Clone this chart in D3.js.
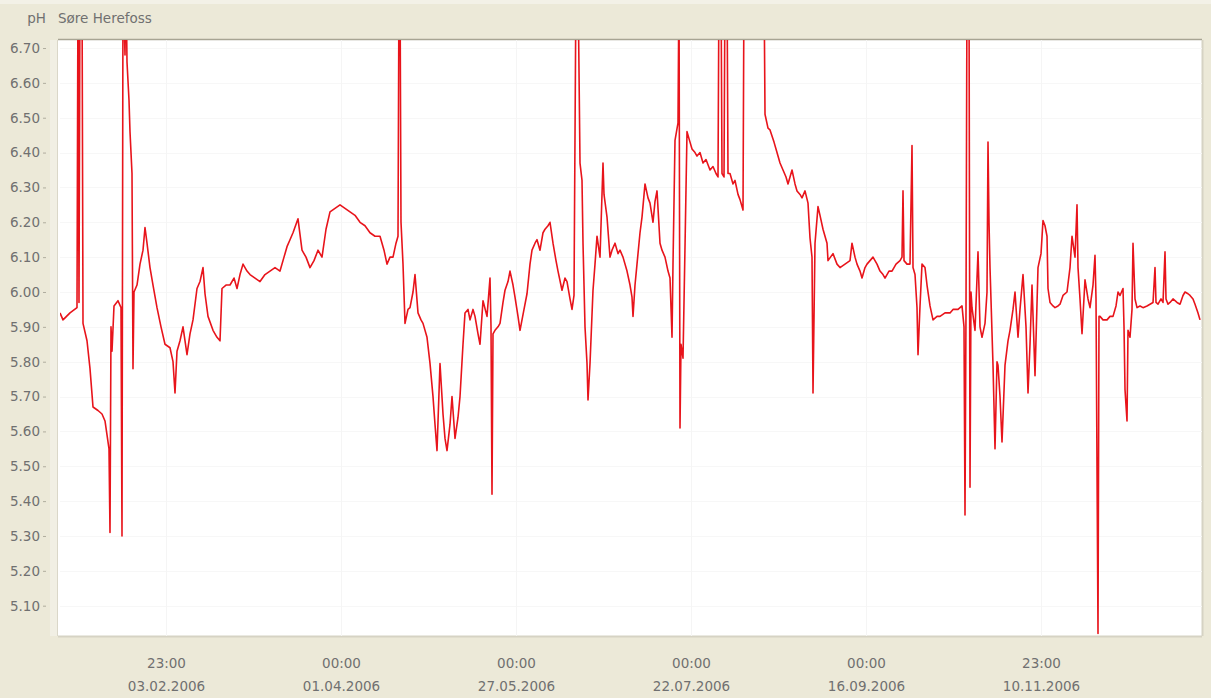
<!DOCTYPE html>
<html>
<head>
<meta charset="utf-8">
<script src="https://cdn.jsdelivr.net/npm/d3@7"></script>
<style>
  html, body { margin: 0; padding: 0; background: #ECE9D8; }
  svg { display: block; }
  text { font-family: "DejaVu Sans", sans-serif; }
</style>
</head>
<body>
<svg id="chart" width="1211" height="698"></svg>
<script>
// ---- data (day of year 2006, pH) ----
const days = [0,0.96,3.2,5.44,5.76,6.08,6.4,7.04,7.36,8.64,9.6,10.56,12.16,13.44,14.4,15.36,15.68,16.0,16.32,16.64,17.28,18.56,19.52,19.84,20.16,20.8,21.12,21.44,22.08,22.4,23.04,23.36,23.68,24.64,25.6,26.56,27.2,27.84,28.8,29.76,31.04,32.32,33.6,35.2,36.16,36.8,37.44,38.4,39.36,40.64,41.6,42.56,43.84,44.8,45.76,46.4,47.36,48.96,50.24,51.2,51.84,53.12,54.4,55.68,56.64,57.6,58.56,59.84,60.8,62.4,64.0,65.6,67.2,68.8,70.4,71.68,72.64,73.6,74.56,76.16,77.44,78.72,80.0,81.28,82.56,83.84,85.12,86.4,88.0,89.6,91.2,92.8,94.4,96.0,97.6,99.2,100.8,102.4,103.68,104.64,105.6,106.56,107.52,108.16,108.48,108.8,109.12,109.76,110.4,111.36,112.0,112.96,113.6,114.56,115.52,116.16,117.44,118.4,119.36,120.0,120.64,121.6,122.56,123.2,123.84,124.8,125.44,126.4,127.36,128.0,128.96,129.6,130.56,131.2,132.16,132.8,133.76,134.4,135.36,136.64,137.6,137.92,138.24,138.56,139.2,140.16,140.8,141.76,142.4,143.36,144.0,144.96,145.6,146.56,147.2,148.48,149.44,150.4,151.04,152.0,152.64,153.6,154.56,155.2,156.16,156.8,157.76,158.72,159.36,160.64,161.6,162.24,163.2,163.84,164.48,165.12,165.76,166.4,167.04,167.36,168.0,168.64,168.96,169.6,170.56,171.2,171.84,172.8,173.76,174.08,175.04,176.0,176.64,177.6,178.56,179.2,180.16,181.44,182.4,183.04,183.36,184.0,184.64,185.6,186.24,187.2,188.16,188.8,189.76,190.4,191.04,192.0,192.64,193.6,194.56,195.2,195.84,196.16,196.8,197.76,198.08,198.4,198.72,199.36,200.0,200.64,201.6,202.24,203.2,203.84,204.8,205.76,206.72,208.0,208.96,209.92,210.56,210.88,211.52,211.84,212.48,212.8,213.44,213.76,214.4,215.36,216.0,216.96,217.6,218.56,218.88,225.28,225.6,226.56,227.2,228.48,229.44,230.4,231.36,232.32,232.96,234.24,235.2,235.84,236.8,237.44,238.4,239.36,240.0,240.64,240.96,241.6,242.56,243.2,244.16,245.44,245.76,247.36,248.64,249.6,251.2,252.8,253.44,254.4,255.04,256.0,256.64,257.6,258.24,259.2,260.16,261.44,262.4,263.36,264.0,265.28,266.24,267.52,268.8,269.44,269.76,270.08,271.04,272.0,272.64,272.96,273.6,274.24,274.56,275.2,275.84,276.8,277.44,278.4,279.36,280.64,281.6,283.2,284.8,285.76,287.36,288.64,289.28,289.6,289.92,290.24,290.88,291.2,291.52,291.84,292.8,293.76,294.4,295.04,296.0,296.64,296.96,297.28,297.6,298.56,299.2,299.84,300.16,300.8,301.44,302.4,303.36,304.0,304.96,305.6,306.56,307.2,308.16,309.12,309.76,310.4,311.04,312.0,312.96,313.92,314.56,315.2,315.84,316.16,316.8,317.76,318.4,319.36,320.0,320.96,322.24,323.2,323.84,324.8,325.44,325.76,326.4,327.04,328.0,328.96,329.6,330.56,331.2,331.52,332.16,332.48,332.8,333.76,335.04,336.0,336.96,337.92,338.56,339.2,340.16,340.48,340.8,341.44,341.76,342.4,343.04,343.36,344.0,344.64,345.6,346.56,347.84,348.8,349.76,350.4,350.72,351.36,352.32,352.96,353.6,353.92,354.56,355.2,356.16,357.44,358.4,359.36,360.0,360.96,361.6,362.56,363.2,364.16,364.8];
const ph = [5.94,5.92,5.94,5.955,6.9,5.97,6.9,6.9,5.91,5.86,5.78,5.67,5.66,5.65,5.63,5.57,5.55,5.31,5.90,5.83,5.96,5.975,5.955,5.30,6.9,6.68,6.9,6.66,6.55,6.46,6.34,5.78,6.00,6.02,6.08,6.12,6.185,6.14,6.07,6.02,5.955,5.90,5.85,5.84,5.80,5.71,5.83,5.86,5.90,5.82,5.88,5.92,6.01,6.03,6.07,5.995,5.93,5.89,5.87,5.86,6.01,6.02,6.02,6.04,6.01,6.05,6.08,6.06,6.05,6.04,6.03,6.05,6.06,6.07,6.06,6.10,6.13,6.15,6.17,6.21,6.12,6.10,6.07,6.09,6.12,6.10,6.18,6.23,6.24,6.25,6.24,6.23,6.22,6.20,6.19,6.17,6.16,6.16,6.12,6.08,6.10,6.10,6.14,6.16,6.9,6.9,6.20,6.08,5.91,5.95,5.955,6.00,6.05,5.94,5.92,5.91,5.87,5.795,5.70,5.62,5.545,5.795,5.65,5.58,5.545,5.62,5.70,5.58,5.64,5.70,5.85,5.94,5.95,5.92,5.95,5.93,5.88,5.85,5.975,5.93,6.04,5.90,5.42,5.88,5.89,5.90,5.91,5.97,6.005,6.03,6.06,6.02,5.985,5.93,5.89,5.95,5.995,6.08,6.12,6.14,6.15,6.12,6.17,6.18,6.19,6.20,6.14,6.09,6.06,6.005,6.04,6.03,5.98,5.95,5.99,6.9,6.9,6.37,6.32,6.14,5.90,5.795,5.69,5.795,6.005,6.08,6.16,6.10,6.37,6.28,6.215,6.10,6.12,6.14,6.11,6.12,6.10,6.06,6.02,5.985,5.93,6.02,6.08,6.17,6.215,6.31,6.27,6.255,6.20,6.26,6.29,6.14,6.12,6.10,6.06,6.04,5.87,6.08,6.435,6.485,6.9,5.61,5.85,5.81,6.13,6.46,6.43,6.41,6.40,6.39,6.40,6.37,6.38,6.35,6.36,6.34,6.33,6.9,6.9,6.34,6.33,6.9,6.9,6.34,6.34,6.31,6.32,6.28,6.265,6.235,6.9,6.9,6.51,6.47,6.465,6.43,6.40,6.37,6.35,6.33,6.31,6.35,6.31,6.29,6.28,6.27,6.29,6.255,6.155,6.10,5.71,6.14,6.245,6.22,6.18,6.14,6.09,6.11,6.08,6.07,6.08,6.09,6.14,6.10,6.08,6.06,6.04,6.07,6.08,6.09,6.10,6.08,6.06,6.05,6.04,6.06,6.06,6.08,6.09,6.10,6.29,6.09,6.08,6.08,6.42,6.07,6.05,5.955,5.82,5.96,6.08,6.07,6.02,5.96,5.92,5.93,5.93,5.94,5.94,5.95,5.95,5.96,5.90,5.36,5.95,6.9,6.9,5.44,6.00,5.955,5.89,6.115,5.90,5.87,5.91,6.00,6.43,6.20,6.07,5.79,5.55,5.80,5.79,5.70,5.57,5.79,5.86,5.89,5.95,6.00,5.87,5.95,6.05,5.90,5.71,5.85,6.02,5.76,6.07,6.11,6.205,6.19,6.16,6.01,5.97,5.96,5.955,5.96,5.965,5.99,6.00,6.07,6.16,6.10,6.25,6.07,5.98,5.88,6.035,5.98,5.955,6.02,6.105,5.98,5.02,5.93,5.93,5.92,5.92,5.93,5.93,5.96,6.00,5.99,6.01,5.90,5.72,5.63,5.89,5.87,5.95,6.14,5.98,5.955,5.96,5.955,5.96,5.965,5.97,6.07,5.97,5.965,5.98,5.97,6.115,5.98,5.965,5.97,5.98,5.97,5.965,5.99,6.00,5.995,5.99,5.98,5.965,5.94,5.92];

const yTicks = [6.70,6.60,6.50,6.40,6.30,6.20,6.10,6.00,5.90,5.80,5.70,5.60,5.50,5.40,5.30,5.20,5.10];
const xTickISO = ["2006-02-03T22:00Z","2006-03-31T22:00Z","2006-05-26T22:00Z","2006-07-21T22:00Z","2006-09-15T22:00Z","2006-11-10T22:00Z"];
const xTickTime = ["23:00","00:00","00:00","00:00","00:00","23:00"];
const xTickDate = ["03.02.2006","01.04.2006","27.05.2006","22.07.2006","16.09.2006","10.11.2006"];
const titleUnit = "pH";
const titleStation = "Søre Herefoss";

// ---- layout ----
const svg = d3.select("#chart");
const W = 1211, H = 698;
const plot = { left: 60, right: 1202, top: 40, bottom: 636 };

const t0 = Date.UTC(2006, 0, 1);
const x = d3.scaleUtc()
  .domain([new Date(t0), new Date(Date.UTC(2007, 0, 1, 10, 30))])
  .range([plot.left, plot.right]);
const y = d3.scaleLinear()
  .domain([5.013, 6.723])
  .range([plot.bottom, plot.top]);

const data = days.map((d, i) => ({ t: new Date(t0 + d * 864e5), v: ph[i] }));

// background
svg.append("rect").attr("width", W).attr("height", H).attr("fill", "#ECE9D8");
svg.append("rect").attr("x", 0).attr("y", 0).attr("width", W).attr("height", 4).attr("fill", "#F3F1E7");
svg.append("rect").attr("x", 50).attr("y", plot.top).attr("width", 8).attr("height", plot.bottom - plot.top)
  .attr("fill", "#F1EFE4");

// plot area
svg.append("rect")
  .attr("x", plot.left - 2).attr("y", plot.top)
  .attr("width", plot.right - plot.left + 2).attr("height", plot.bottom - plot.top)
  .attr("fill", "#ffffff");
svg.append("line").attr("x1", plot.left - 2).attr("x2", plot.right).attr("y1", plot.top - 0.5).attr("y2", plot.top - 0.5)
  .attr("stroke", "#A7A493").attr("stroke-width", 1.5);
svg.append("line").attr("x1", plot.left - 2).attr("x2", plot.right).attr("y1", plot.bottom + 0.5).attr("y2", plot.bottom + 0.5)
  .attr("stroke", "#D6D3C4").attr("stroke-width", 2);
svg.append("line").attr("x1", plot.right + 0.5).attr("x2", plot.right + 0.5).attr("y1", plot.top).attr("y2", plot.bottom)
  .attr("stroke", "#D6D3C4").attr("stroke-width", 2);
svg.append("line").attr("x1", plot.left - 2.5).attr("x2", plot.left - 2.5).attr("y1", plot.top).attr("y2", plot.bottom)
  .attr("stroke", "#DAD7C9").attr("stroke-width", 1);

// grid (very faint)
const xTickDates = xTickISO.map(s => new Date(s));
const grid = svg.append("g");
grid.selectAll("line.h").data(yTicks).join("line")
  .attr("x1", plot.left).attr("x2", plot.right)
  .attr("y1", d => Math.round(y(d)) + 0.5).attr("y2", d => Math.round(y(d)) + 0.5)
  .attr("stroke", "#F7F7F7").attr("stroke-width", 1);
grid.selectAll("line.v").data(xTickDates).join("line")
  .attr("x1", d => Math.round(x(d)) + 0.5).attr("x2", d => Math.round(x(d)) + 0.5)
  .attr("y1", plot.top).attr("y2", plot.bottom)
  .attr("stroke", "#F5F5F5").attr("stroke-width", 1);

// y axis
const yAxis = d3.axisLeft(y).tickValues(yTicks).tickFormat(d3.format(".2f")).tickSize(3).tickPadding(3);
const gy = svg.append("g").attr("transform", `translate(46,0)`).call(yAxis);
gy.select(".domain").remove();
gy.selectAll(".tick line").attr("stroke", "#B0AD9E");
gy.selectAll(".tick text").attr("fill", "#707070").style("font-size", "13.5px")
  .style("font-family", "'DejaVu Sans', sans-serif");

// x axis
const xAxis = d3.axisBottom(x).tickValues(xTickDates).tickSize(0).tickFormat(() => "");
const gx = svg.append("g").attr("transform", `translate(0,${plot.bottom})`).call(xAxis);
gx.select(".domain").remove();
gx.selectAll(".tick").each(function(d, i) {
  const g = d3.select(this);
  g.select("text").remove();
  g.append("text").attr("y", 32).attr("text-anchor", "middle").attr("fill", "#707070")
    .style("font-size", "13.5px").text(xTickTime[i]);
  g.append("text").attr("y", 55).attr("text-anchor", "middle").attr("fill", "#707070")
    .style("font-size", "13.5px").text(xTickDate[i]);
});

// title
svg.append("text").attr("x", 46).attr("y", 23).attr("text-anchor", "end").attr("fill", "#707070")
  .style("font-size", "13.5px").text(titleUnit);
svg.append("text").attr("x", 58).attr("y", 23).attr("fill", "#707070")
  .style("font-size", "13.5px").text(titleStation);

// clip
svg.append("clipPath").attr("id", "clip").append("rect")
  .attr("x", plot.left).attr("y", plot.top).attr("width", plot.right - plot.left).attr("height", plot.bottom - plot.top);

const line = d3.line().x(d => x(d.t)).y(d => y(d.v));
svg.append("path").datum(data)
  .attr("clip-path", "url(#clip)")
  .attr("d", line)
  .attr("fill", "none")
  .attr("stroke", "#E8141B")
  .attr("stroke-width", 1.6)
  .attr("stroke-linejoin", "round");
</script>
</body>
</html>
